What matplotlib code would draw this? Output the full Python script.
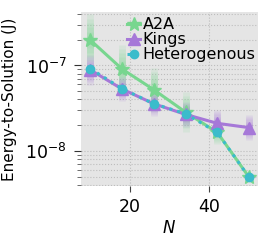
import matplotlib
matplotlib.use("Agg")
import matplotlib.pyplot as plt
import numpy as np

# problem sizes
n_vals = [10, 18, 26, 34, 42, 50]

# energy-to-solution (J)
a2a = [1.99e-7, 9.1e-8, 5.2e-8, 2.84e-8, 1.64e-8, 4.9e-9]
kings = [8.9e-8, 5.3e-8, 3.56e-8, 2.67e-8, 2.1e-8, 1.87e-8]
hetero = [9.2e-8, 5.35e-8, 3.56e-8, 2.72e-8, 1.64e-8, 4.9e-9]

# spread (multiplicative) of the faded bands around each point
a2a_spread = [2.0, 1.9, 1.8, 1.7, 1.35, 1.05]
kings_spread = [1.5, 1.4, 1.4, 1.4, 1.45, 1.4]
hetero_spread = [1.1, 1.1, 1.1, 1.1, 1.1, 1.05]

green = "#78d68f"
purple = "#a678d8"
cyan = "#3bbccb"

plt.rcParams['font.family'] = ['DejaVu Sans']
plt.rcParams['font.size'] = 11

fig, ax = plt.subplots(figsize=(2.69, 2.46), dpi=100)
ax.set_facecolor("#e5e5e5")
for s in ax.spines.values():
    s.set_visible(False)

def bands(vals, spread, color):
    for k in np.linspace(0.15, 1.0, 6):
        f = np.array(spread) ** k
        lo = np.array(vals) / f
        hi = np.array(vals) * f
        ax.vlines(n_vals, lo, hi, color=color, alpha=0.13, lw=5, zorder=2)

bands(a2a, a2a_spread, green)
bands(kings, kings_spread, purple)
bands(hetero, hetero_spread, cyan)

ax.plot(n_vals, a2a, color=green, marker="*", ms=10, lw=2.2, label="A2A", zorder=3)
ax.plot(n_vals, kings, color=purple, marker="^", ms=8.5, lw=2.2, label="Kings", zorder=3)
ax.plot(n_vals, hetero, color=cyan, marker="o", ms=6, lw=2.2, ls=":", label="Heterogenous", zorder=4)

ax.set_yscale("log")
ax.set_ylim(3.9e-9, 4.2e-7)
ax.set_xlim(7.6, 52.3)
ax.set_xticks([20, 40])
ax.grid(True, which="both", color="#bdbdbd", ls=":", lw=0.8, zorder=0)
ax.set_axisbelow(True)
ax.tick_params(axis="both", which="major", labelsize=12.5, pad=5)
ax.tick_params(axis="x", which="both", length=4, color="#444444")
ax.tick_params(axis="y", which="major", length=5, color="#333333")
ax.tick_params(axis="y", which="minor", length=3, color="#555555")

ax.set_xlabel(r"$N$", fontsize=12, labelpad=2)
ax.set_ylabel("Energy-to-Solution (J)", fontsize=11, labelpad=6)

ax.legend(loc="upper left", bbox_to_anchor=(0.235, 1.0), frameon=False,
          handlelength=0.8, handletextpad=0.15, labelspacing=0.0,
          borderpad=0.1, borderaxespad=0.2, fontsize=11.5)

fig.subplots_adjust(left=0.30, right=0.96, top=0.95, bottom=0.245)
fig.savefig("out.png", dpi=100)
